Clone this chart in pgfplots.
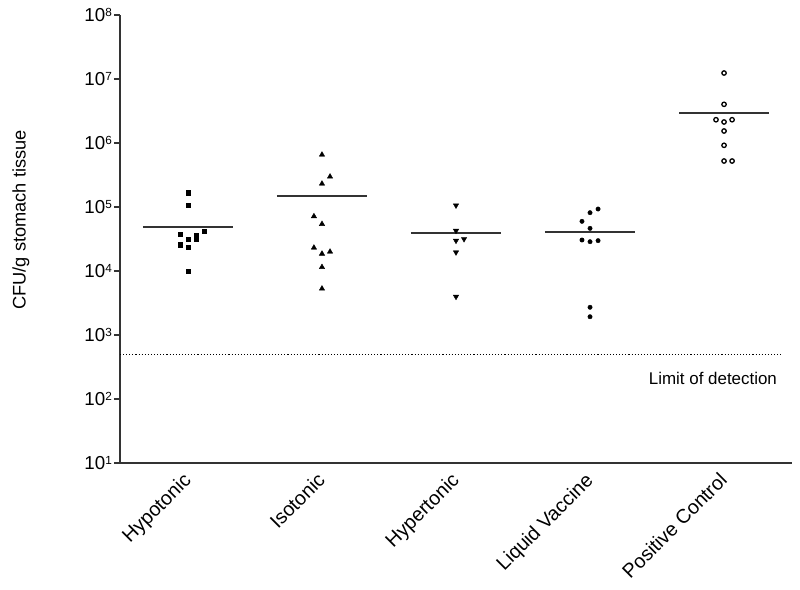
\documentclass[border=0pt]{standalone}
\usepackage{pgfplots}
\pgfplotsset{compat=1.18}
\usepackage{fontspec}
\setmainfont{Liberation Sans}
\newcommand\tl[1]{10\raisebox{5bp}{\fontsize{11.8}{12}\selectfont #1}}
\begin{document}
\begin{tikzpicture}
\useasboundingbox (-120bp,-127bp) rectangle (680bp,463bp);
\begin{axis}[
 at={(0,0)}, anchor=south west,
 scale only axis, width=672bp, height=448bp,
 ymode=log, log basis y=10,
 xmin=-0.507, xmax=4.507, ymin=10, ymax=1e8,
 axis x line=bottom, axis y line=left,
 axis line style={-, line width=1.6bp, color=black!80},
 xtick={0,1,2,3,4},
 xticklabels={Hypotonic,Isotonic,Hypertonic,Liquid Vaccine,Positive Control},
 x tick label style={xshift=-6bp, yshift=-1bp, rotate=45, anchor=north east, font=\fontsize{19.8}{21}\selectfont, inner sep=1bp},
 x tick style={draw=none},
 ytick={1e1,1e2,1e3,1e4,1e5,1e6,1e7,1e8},
 yticklabels={\tl{1},\tl{2},\tl{3},\tl{4},\tl{5},\tl{6},\tl{7},\tl{8}},
 yminorticks=false,
 tick align=outside, major tick length=6bp,
 y tick style={line width=1.6bp, color=black!80},
 y tick label style={font=\fontsize{18.8}{20}\selectfont, inner sep=2bp},
 ylabel={CFU/g stomach tissue},
 ylabel style={font=\fontsize{18.3}{20}\selectfont, at={(axis description cs:-0.1473,0.5424)}, anchor=center},
 clip=false,
]
% limit of detection
\addplot[black, line width=1.1bp, dash pattern=on 1.1bp off 2bp] coordinates {(-0.507,500) (4.433,500)};
\node[anchor=base east, inner sep=0pt, font=\fontsize{17}{18}\selectfont] at (axis cs:4.396,165.6) {Limit of detection};
% mean lines
\addplot[black!80, line width=1.9bp] coordinates {(-0.336,4.87e4) (0.336,4.87e4)};
\addplot[black!80, line width=1.9bp] coordinates {(0.664,1.49e5) (1.336,1.49e5)};
\addplot[black!80, line width=1.9bp] coordinates {(1.664,3.98e4) (2.336,3.98e4)};
\addplot[black!80, line width=1.9bp] coordinates {(2.664,4.07e4) (3.336,4.07e4)};
\addplot[black!80, line width=1.9bp] coordinates {(3.664,2.94e6) (4.336,2.94e6)};
% Hypotonic
\addplot[only marks, mark=square*, mark size=2.2bp, black] coordinates {
(0,1.67e5) (0,1.06e5) (-0.06,3.74e4) (0.12,4.22e4) (0,3.16e4) (0.06,3.55e4) (0.06,3.13e4) (-0.06,2.58e4) (0,2.37e4) (0,1.0e4)};
% Isotonic
\addplot[only marks, mark=triangle*, mark size=3.1bp, black] coordinates {
(1,6.56e5) (1.06,2.98e5) (1,2.31e5) (0.94,7.15e4) (1,5.42e4) (0.94,2.31e4) (1,1.86e4) (1.06,2.0e4) (1,1.15e4) (1,5.3e3)};
% Hypertonic
\addplot[only marks, mark=triangle*, mark size=3.1bp, mark options={rotate=180}, black] coordinates {
(2,1.06e5) (2,4.26e4) (2,2.98e4) (2.06,3.16e4) (2,1.96e4) (2,3.97e3)};
% Liquid Vaccine
\addplot[only marks, mark=*, mark size=2.2bp, black] coordinates {
(3.06,9.3e4) (3,8.15e4) (2.94,5.97e4) (3,4.64e4) (2.94,3.05e4) (3,2.87e4) (3.06,2.98e4) (3,2.71e3) (3,1.93e3)};
% Positive Control
\addplot[only marks, mark=o, mark size=2.2bp, mark options={line width=1.3bp}, black] coordinates {
(4,1.24e7) (4,4.02e6) (3.94,2.31e6) (4,2.13e6) (4.06,2.31e6) (4,1.54e6) (4,9.2e5) (4,5.23e5) (4.06,5.23e5)};
\end{axis}
\end{tikzpicture}
\end{document}
